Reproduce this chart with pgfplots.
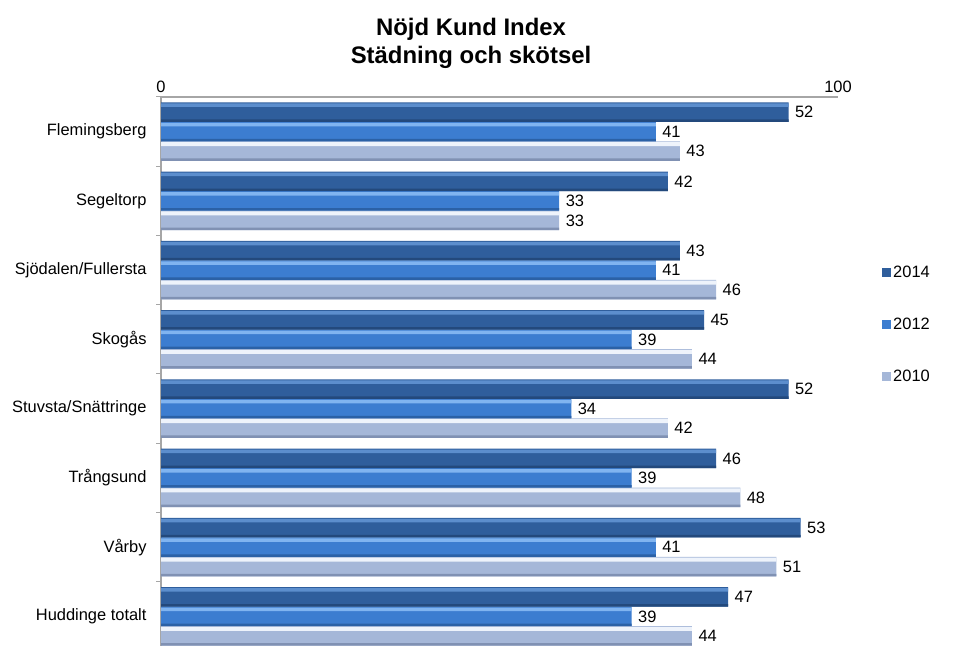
\documentclass[border=0pt]{standalone}
\usepackage{fontspec}
\setmainfont{Liberation Sans}
\usepackage{pgfplots}
\usepackage{pgfplotstable}
\pgfplotsset{compat=1.18}
\definecolor{axgray}{HTML}{A6A6A6}
% 2014 dark blue, 2012 mid blue, 2010 grey blue: highlight / body / shadow
\definecolor{aTop}{HTML}{5C8ECD}\definecolor{aMid}{HTML}{2F5E9C}\definecolor{aBot}{HTML}{23497C}
\definecolor{bTop}{HTML}{80B4F0}\definecolor{bMid}{HTML}{3C7DD0}\definecolor{bBot}{HTML}{2B61A6}
\definecolor{cTop}{HTML}{EEF3FB}\definecolor{cMid}{HTML}{A5B7D8}\definecolor{cBot}{HTML}{8091B3}

% y: 7 = first category (top)
\pgfplotstableread{
y  a  b  c
0  47 39 44
1  53 41 51
2  46 39 48
3  52 34 42
4  45 39 44
5  43 41 46
6  42 33 33
7  52 41 43
}\nkidata

\begin{document}
\begin{tikzpicture}[x=1bp,y=1bp]
\useasboundingbox (0,0) rectangle (960,646);
\node[font=\fontsize{24}{28}\selectfont\bfseries, align=center] at (471,603)
  {Nöjd Kund Index\\Städning och skötsel};
\begin{axis}[
  at={(161bp,-5bp)}, anchor=south west,
  scale only axis, width=677bp, height=554bp,
  xbar, bar width=19.5bp,
  xmin=0, xmax=56.1, ymin=-0.5, ymax=7.5,
  axis x line*=top, axis y line*=left,
  axis line style={axgray, line width=1.2bp},
  xtick={0,56.1}, xticklabels={0,100},
  ytick={0,...,7},
  yticklabels={Huddinge totalt,Vårby,Trångsund,Stuvsta/Snättringe,Skogås,Sjödalen/Fullersta,Segeltorp,Flemingsberg},
  major tick length=0pt,
  extra y ticks={-0.5,0.5,...,7.5}, extra y tick labels={},
  extra y tick style={major tick length=5bp, tick align=outside, tick style={axgray, line width=1bp}},
  tick label style={font=\fontsize{16.5}{19}\selectfont},
  yticklabel style={xshift=-11bp},
  xticklabel style={yshift=1bp},
  /pgf/number format/assume math mode=true,
  nodes near coords style={font=\fontsize{16.5}{19}\selectfont, text=black, anchor=west, xshift=3bp},
  legend style={at={(1.065,0.59)}, anchor=west, draw=none, fill=none,
    font=\fontsize{16.5}{19}\selectfont, row sep=35bp, inner sep=0pt,
    nodes={inner sep=2bp}},
  legend cell align=left,
  legend image code/.code={\path[#1] (0bp,-4.5bp) rectangle (9bp,4.5bp);},
]
% main bars
\addplot[draw=none, fill=aMid, bar shift=19.5bp, nodes near coords] table[x=a, y=y] {\nkidata};
\addplot[draw=none, fill=bMid, bar shift=0bp, nodes near coords] table[x=b, y=y] {\nkidata};
\addplot[draw=none, fill=cMid, bar shift=-19.5bp, nodes near coords] table[x=c, y=y] {\nkidata};
\legend{2014,2012,2010}
% top highlight and bottom shadow strips of each bar
\addplot[forget plot, draw=none, fill=aTop, bar width=3.5bp, bar shift=26.5bp] table[x=a, y=y] {\nkidata};
\addplot[forget plot, draw=none, fill=aBot, bar width=2.5bp, bar shift=11bp] table[x=a, y=y] {\nkidata};
\addplot[forget plot, draw=none, fill=bTop, bar width=3.5bp, bar shift=7bp] table[x=b, y=y] {\nkidata};
\addplot[forget plot, draw=none, fill=bBot, bar width=2.5bp, bar shift=-8.5bp] table[x=b, y=y] {\nkidata};
\addplot[forget plot, draw=none, fill=cTop, bar width=4bp, bar shift=-12.5bp] table[x=c, y=y] {\nkidata};
\addplot[forget plot, draw=none, fill=cBot, bar width=2.5bp, bar shift=-28bp] table[x=c, y=y] {\nkidata};
\end{axis}
\end{tikzpicture}
\end{document}
